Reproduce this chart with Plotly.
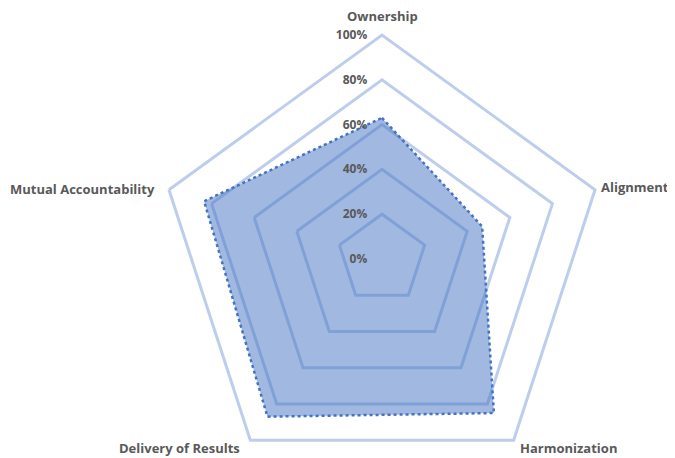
import math
import plotly.graph_objects as go

categories = ["Ownership", "Alignment", "Harmonization", "Delivery of Results", "Mutual Accountability"]
values = [0.63, 0.47, 0.85, 0.87, 0.835]
tick_vals = [0, 0.2, 0.4, 0.6, 0.8, 1.0]
tick_text = ["0%", "20%", "40%", "60%", "80%", "100%"]

# page body has an 8px margin, so the figure is laid out in its own pixel frame
W, H = 667, 475
cx, cy, R = 374, 251, 224

fig = go.Figure()
fig.add_trace(go.Scatterpolar(
    r=values + values[:1],
    theta=categories + categories[:1],
    mode="lines",
    fill="toself",
    fillcolor="rgba(68,114,196,0.5)",
    line=dict(color="#4472C4", width=2.5, dash="dot"),
    hoverinfo="skip",
))

# category labels placed just outside each outer vertex
label_offsets = {
    "Ownership": ("center", 0, 19),
    "Alignment": ("left", 4, 3),
    "Harmonization": ("left", 4, -8),
    "Delivery of Results": ("right", -8, -8),
    "Mutual Accountability": ("right", -12, 1),
}
annotations = []
for i, cat in enumerate(categories):
    ang = math.radians(90 - 72 * i)
    px = cx + R * math.cos(ang)
    py = cy - R * math.sin(ang)
    xa, xs, ys = label_offsets[cat]
    annotations.append(dict(
        x=px / W, y=1 - py / H, xref="paper", yref="paper",
        text=cat, showarrow=False, xanchor=xa, yanchor="middle",
        xshift=xs, yshift=ys,
        font=dict(family="Open Sans", size=13, color="#595959", weight="bold"),
    ))

pad = "\u00a0" * 4  # keeps the radial labels clear of the axis

fig.update_layout(
    width=W, height=H,
    margin=dict(l=0, r=0, t=0, b=0),
    paper_bgcolor="white",
    plot_bgcolor="white",
    showlegend=False,
    annotations=annotations,
    polar=dict(
        domain=dict(x=[(cx - R) / W, (cx + R) / W], y=[(H - cy - R) / H, (H - cy + R) / H]),
        bgcolor="white",
        gridshape="linear",
        radialaxis=dict(
            range=[0, 1],
            tickvals=tick_vals,
            ticktext=[t + pad for t in tick_text],
            angle=90,
            tickangle=90,
            side="counterclockwise",
            showline=False,
            ticks="",
            gridcolor="#BDCEEC",
            gridwidth=3,
            tickfont=dict(family="Open Sans", size=12, color="#595959", weight="bold"),
        ),
        angularaxis=dict(
            rotation=90,
            direction="clockwise",
            showgrid=False,
            showline=True,
            linecolor="#BDCEEC",
            linewidth=3,
            ticks="",
            showticklabels=False,
        ),
    ),
)

fig.write_html("out.html")
